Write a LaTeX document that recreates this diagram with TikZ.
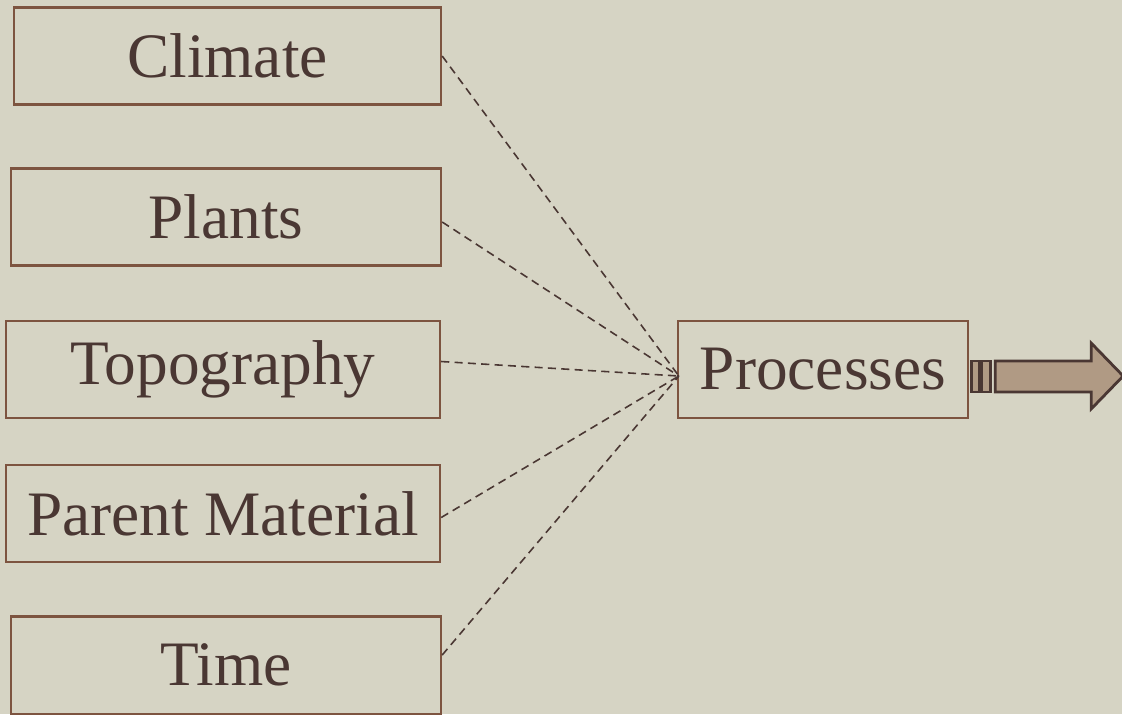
\documentclass[tikz,border=0pt]{standalone}
\usepackage{fontspec}
\setmainfont{Liberation Serif}
\usetikzlibrary{positioning,calc}

\definecolor{paper}{RGB}{214,212,196}
\definecolor{boxline}{RGB}{125,84,64}
\definecolor{ink}{RGB}{74,55,51}
\definecolor{arrowfill}{RGB}{176,154,132}

\begin{document}
\begin{tikzpicture}[
  x=0.01cm, y=-0.01cm,
  font=\fontsize{18}{21}\selectfont,
  factor/.style={draw=boxline, line width=0.6pt, text=ink, minimum width=4.3cm,
                 minimum height=0.97cm, inner sep=2pt, align=center},
  proc/.style={factor, minimum width=2.9cm},
  link/.style={ink, line width=0.45pt, dash pattern=on 2.3pt off 1.5pt},
  stripe/.style={draw=ink, line width=0.8pt, fill=arrowfill},
]
\fill[paper] (0,0) rectangle (1122,714);
\useasboundingbox (0,0) rectangle (1122,714);

%% ---------- soil forming factors ----------
\node[factor, minimum width=4.27cm] (climate) at (227.5,56) {Climate};
\node[factor, minimum width=4.30cm] (plants) at (226,217) {Plants};
\node[factor, minimum width=4.34cm] (topo) at (223,369.5) {Topography};
\node[factor, minimum width=4.34cm] (parent) at (223,513.5) {Parent Material};
\node[factor, minimum width=4.30cm] (time) at (226,665) {Time};

%% ---------- processes ----------
\node[proc] (proc) at (823,369.5) {Processes};
\coordinate (hub) at ($(proc.west)+(2,6.5)$);

\draw[link] (climate.east) -- (hub);
\draw[link] ($(plants.east)+(0,5)$) -- (hub);
\draw[link] ($(topo.east)+(0,-8)$) -- (hub);
\draw[link] ($(parent.east)+(0,4)$) -- (hub);
\draw[link] ($(time.east)+(0,-10)$) -- (hub);

%% striped output arrow
\coordinate (tail) at ($(proc.east)+(2,0)$);
\draw[stripe] ($(tail)+(0,-8.5)$) rectangle ($(tail)+(8,22.5)$);
\draw[stripe] ($(tail)+(10,-8.5)$) rectangle ($(tail)+(19,22.5)$);
\draw[stripe] ($(tail)+(24,-8.5)$) -- ($(tail)+(120,-8.5)$) -- ($(tail)+(120,-26.5)$)
  -- ($(tail)+(152,6.5)$) -- ($(tail)+(120,39.5)$) -- ($(tail)+(120,22.5)$)
  -- ($(tail)+(24,22.5)$) -- cycle;

\end{tikzpicture}
\end{document}
